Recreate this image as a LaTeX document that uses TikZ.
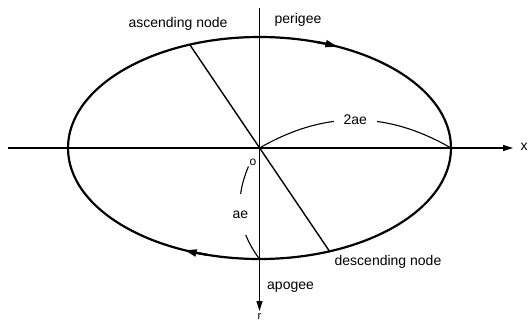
\documentclass[tikz,border=0pt]{standalone}
\usepackage{fontspec}
\setmainfont{Liberation Sans}
\usetikzlibrary{arrows.meta}
\begin{document}
\begin{tikzpicture}[x=1pt,y=-1pt,
  lbl/.style={font=\fontsize{14}{16}\selectfont, inner sep=1pt},
  axis/.style={line width=1.1pt},
  axtip/.style={-{Triangle[length=10pt,width=6pt]}},
  orbit/.style={line width=2.2pt},
  radial/.style={line width=1.4pt},
  dim/.style={line width=1.1pt},
  dir/.style={line width=2.2pt,-{Triangle[length=12pt,width=7pt]}}]
\useasboundingbox (0,0) rectangle (530,324);
\coordinate (C) at (259.5,148);
\coordinate (xs) at (8,148);
\coordinate (xe) at (513,148);
\coordinate (ys) at (259.5,8);
\coordinate (ye) at (259.5,311);
\coordinate (R) at (451,148);
\coordinate (A) at (259.5,259);
\coordinate (asc) at (190,45);
\coordinate (desc) at (330,252);
\draw[axis,axtip] (xs) -- (xe);
\draw[axis,axtip] (ys) -- (ye);
\draw[orbit] (C) ellipse [x radius=191.5, y radius=111];
\draw[radial] (asc) -- (desc);
\draw[dir] (C) ++(287:191.5 and 111) arc[start angle=287,end angle=294,x radius=191.5,y radius=111];
\draw[dir] (C) ++(106:191.5 and 111) arc[start angle=106,end angle=113,x radius=191.5,y radius=111];
\draw[dim] (C) to[bend left=30] node[lbl,fill=white,inner xsep=10pt] (l2ae) {2ae} (R);
\node[lbl,fill=white,font=\fontsize{12}{14}\selectfont] (lo) at (253,162) {o};
\draw[dim] (lo.south west) to[bend right=30] node[lbl,fill=white,inner ysep=17pt,inner xsep=6pt] (lae) {ae} (A);
\node[lbl] (lasc) at (178,24) {ascending node};
\node[lbl] (lper) at (298,20) {perigee};
\node[lbl] (ldesc) at (388,262) {descending node};
\node[lbl,anchor=west] (lapo) at (266,287) {apogee};
\node[lbl] (lx) at (524,147) {x};
\node[lbl,font=\fontsize{11}{13}\selectfont] (lr) at (259.5,317) {r};
\end{tikzpicture}
\end{document}
